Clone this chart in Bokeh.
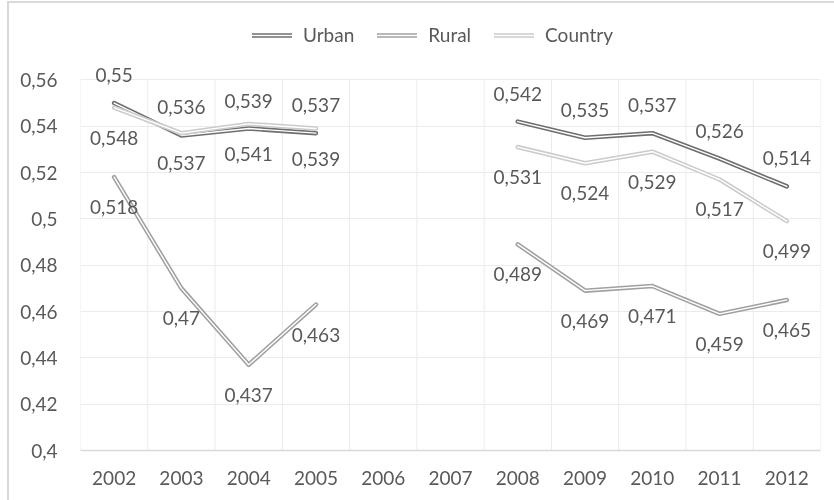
import math

from bokeh.core.properties import value
from bokeh.embed import file_html
from bokeh.models import ColumnDataSource, FixedTicker, Legend, LegendItem
from bokeh.plotting import figure
from bokeh.resources import INLINE

# Years on the category axis
years = [2002, 2003, 2004, 2005, 2006, 2007, 2008, 2009, 2010, 2011, 2012]

# Series values (no survey in 2006 and 2007)
nan = float("nan")
urban = [0.55, 0.536, 0.539, 0.537, nan, nan, 0.542, 0.535, 0.537, 0.526, 0.514]
rural = [0.518, 0.47, 0.437, 0.463, nan, nan, 0.489, 0.469, 0.471, 0.459, 0.465]
country = [0.548, 0.537, 0.541, 0.539, nan, nan, 0.531, 0.524, 0.529, 0.517, 0.499]

y_ticks = [0.4, 0.42, 0.44, 0.46, 0.48, 0.5, 0.52, 0.54, 0.56]

FONT = "Lato"
TEXT = "#595959"
GRID = "#ebebeb"
FRAME_LINE = "#d9d9d9"

# The value axis runs 0.4 .. 0.56 over the plotting area; the range is
# extended upwards so the legend and top labels have room in the frame.
px_per_unit = 370.2 / (y_ticks[-1] - y_ticks[0])
y_top = y_ticks[-1] + 76.3 / px_per_unit

# The chart area continues past the right and bottom of the view.
p = figure(
    width=845, height=517,
    x_range=(2001.5, 2012.5), y_range=(y_ticks[0], y_top),
    output_backend="svg", toolbar_location=None,
    min_border_left=71, min_border_right=34,
    min_border_top=0, min_border_bottom=70,
)
p.outline_line_color = None
p.background_fill_color = "white"
p.border_fill_color = "white"
# chart-area border on the left and top edges
p.styles = {
    "position": "fixed", "left": "9px", "top": "3px",
    "box-shadow": f"-2px -2px 0 0 {FRAME_LINE}",
}

# Axes
p.xaxis.ticker = FixedTicker(ticks=years)
p.xaxis.major_label_overrides = {y: str(y) for y in years}
p.yaxis.ticker = FixedTicker(ticks=y_ticks)
p.yaxis.major_label_overrides = {t: str(t).replace(".", ",") for t in y_ticks}

for ax in (p.xaxis[0], p.yaxis[0]):
    ax.major_tick_line_color = None
    ax.minor_tick_line_color = None
    ax.major_label_text_font = FONT
    ax.major_label_text_font_size = "19px"
    ax.major_label_text_color = TEXT
p.yaxis.axis_line_color = None
p.yaxis.major_label_standoff = 17
p.xaxis.axis_line_color = FRAME_LINE
p.xaxis.axis_line_width = 1.3
p.xaxis.major_label_standoff = 14

# Gridlines: horizontal at each value tick, vertical between categories
p.ygrid.ticker = FixedTicker(ticks=y_ticks[1:])
p.ygrid.grid_line_color = GRID
p.xgrid.grid_line_color = None
edges = [y - 0.5 for y in years] + [years[-1] + 0.5]
p.segment(x0=edges, x1=edges,
          y0=[y_ticks[0]] * len(edges), y1=[y_ticks[-1]] * len(edges),
          line_color=GRID, line_width=1)

# Double-stroke lines
series = [
    ("Urban", urban, "#6e6e6e", -28),
    ("Rural", rural, "#a0a0a0", 30),
    ("Country", country, "#cbcbcb", 30),
]

items = []
for name, vals, color, _ in series:
    src = ColumnDataSource(dict(x=years, y=vals))
    outer = p.line("x", "y", source=src, line_color=color, line_width=4.5,
                   line_join="round", line_cap="round")
    inner = p.line("x", "y", source=src, line_color="white", line_width=1.4,
                   line_join="round", line_cap="round")
    items.append(LegendItem(label=name, renderers=[outer, inner]))

# Data labels, drawn after the lines so they sit on top
for name, vals, color, off in series:
    xs = [x for x, v in zip(years, vals) if not math.isnan(v)]
    vs = [v for v in vals if not math.isnan(v)]
    txt = [f"{v:g}".replace(".", ",") for v in vs]
    lab = ColumnDataSource(dict(x=xs, y=vs, t=txt))
    p.text("x", "y", text="t", source=lab, y_offset=off,
           text_align="center", text_baseline="middle",
           text_font=value(FONT), text_font_size="19px", text_color=TEXT)

legend = Legend(
    items=items, orientation="horizontal",
    location=(172, 404),
    glyph_width=40, glyph_height=20, label_height=20,
    label_standoff=11, spacing=23, padding=0, margin=0,
    label_text_font=FONT, label_text_font_size="19px",
    label_text_color=TEXT,
    background_fill_alpha=0, border_line_color=None,
)
p.add_layout(legend, "center")

open("out.html", "w").write(file_html(p, INLINE))
